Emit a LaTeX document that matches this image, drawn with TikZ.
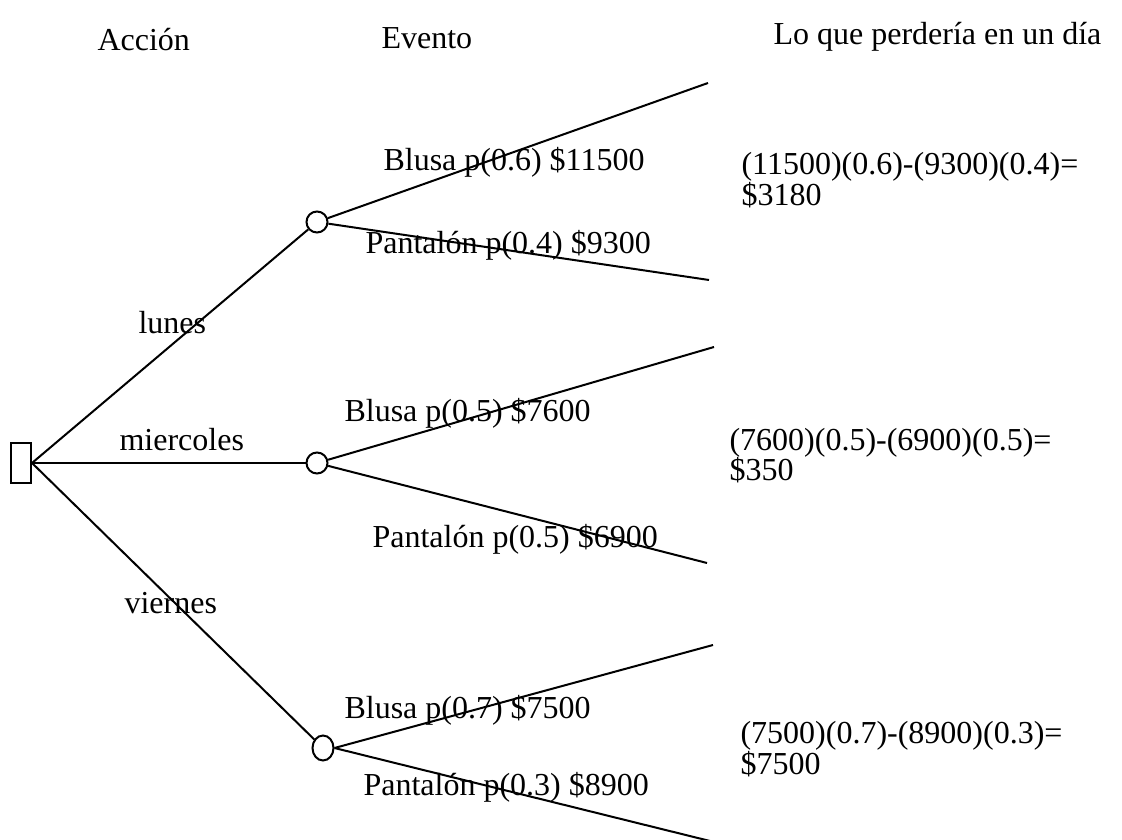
\documentclass[tikz,border=0pt]{standalone}
\usepackage{fontspec}
\setmainfont{Liberation Serif}
\usetikzlibrary{shapes.geometric}
\begin{document}
\begin{tikzpicture}[x=0.375pt,y=-0.375pt,
  txt/.style={anchor=base west,inner sep=0pt,font=\fontsize{12}{11.7}\selectfont},
  branch/.style={line width=0.75pt},
  chance/.style={draw,line width=0.75pt,ellipse,inner sep=0pt},
  decision/.style={draw,line width=0.75pt,rectangle,inner sep=0pt,minimum width=20*0.375pt,minimum height=40*0.375pt}]
\useasboundingbox (0,0) rectangle (1122,840);

% decision and chance nodes
\node[decision] (d) at (21,463) {};
\node[chance,minimum width=21*0.375pt,minimum height=21*0.375pt] (c1) at (317,222) {};
\node[chance,minimum width=21*0.375pt,minimum height=21*0.375pt] (c2) at (317,463) {};
\node[chance,minimum width=21*0.375pt,minimum height=25*0.375pt] (c3) at (323,748) {};

% free ends of the event branches
\coordinate (e1a) at (708,83);
\coordinate (e1b) at (709,280);
\coordinate (e2a) at (714,347);
\coordinate (e2b) at (707,563);
\coordinate (e3a) at (713,645);
\coordinate (e3b) at (714,842);

% action branches
\draw[branch] (d.east) -- (c1);
\draw[branch] (d.east) -- (c2);
\draw[branch] (d.east) -- (c3);

% event branches
\draw[branch] (c1) -- (e1a);
\draw[branch] (c1) -- (e1b);
\draw[branch] (c2) -- (e2a);
\draw[branch] (c2) -- (e2b);
\draw[branch] (c3.east) -- (e3a);
\draw[branch] (c3.east) -- (e3b);

% column headers
\node[txt] (h1) at (97,51) {Acción};
\node[txt] (h2) at (381,49) {Evento};
\node[txt] (h3) at (773,45) {Lo que perdería en un día};

% action labels
\node[txt] (l1) at (138,334) {lunes};
\node[txt] (l2) at (119,451) {miercoles};
\node[txt] (l3) at (124,614) {viernes};

% event labels
\node[txt] (b1) at (383,171) {Blusa p(0.6) \$11500};
\node[txt] (p1) at (365,254) {Pantalón p(0.4) \$9300};
\node[txt] (b2) at (344,422) {Blusa p(0.5) \$7600};
\node[txt] (p2) at (372,548) {Pantalón p(0.5) \$6900};
\node[txt] (b3) at (344,719) {Blusa p(0.7) \$7500};
\node[txt] (p3) at (363,796) {Pantalón p(0.3) \$8900};

% expected values
\node[txt] (f1) at (741,175) {(11500)(0.6)-(9300)(0.4)=};
\node[txt] (v1) at (741,206) {\$3180};
\node[txt] (f2) at (729,451) {(7600)(0.5)-(6900)(0.5)=};
\node[txt] (v2) at (729,481) {\$350};
\node[txt] (f3) at (740,744) {(7500)(0.7)-(8900)(0.3)=};
\node[txt] (v3) at (740,775) {\$7500};
\end{tikzpicture}
\end{document}
